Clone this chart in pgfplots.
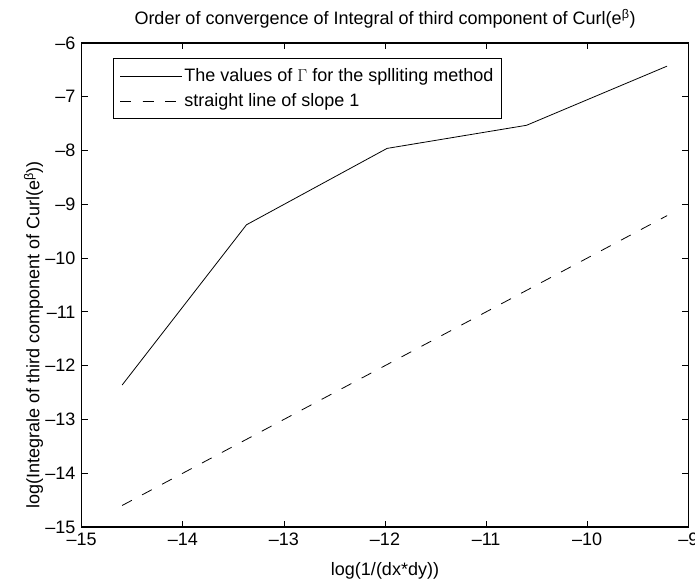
\documentclass[border=0pt]{standalone}
\usepackage{pgfplots}
\pgfplotsset{compat=1.18}
\usepackage{fontspec}
\setmainfont{Liberation Sans}

% Convergence data: log(1/(dx*dy)) against log of the integral
\pgfplotstableread{
x       y
-14.60  -12.36
-13.37  -9.38
-11.98  -7.96
-10.60  -7.53
-9.21   -6.43
}\splitting

\pgfplotstableread{
x       y
-14.60  -14.60
-9.21   -9.21
}\slopeone

\begin{document}
\fontsize{18bp}{22bp}\selectfont
\begin{tikzpicture}
\path[use as bounding box] (-81.7bp,-52bp) rectangle (613.3bp,527bp);
\begin{axis}[
  at={(0,0)}, anchor=south west,
  scale only axis,
  width=606.6bp, height=484bp,
  xmin=-15, xmax=-9, ymin=-15, ymax=-6,
  xtick={-15,-14,-13,-12,-11,-10,-9},
  xticklabels={–15,–14,–13,–12,–11,–10,–9},
  ytick={-15,-14,-13,-12,-11,-10,-9,-8,-7,-6},
  yticklabels={–15,–14,–13,–12,–11,–10,–9,–8,–7,–6},
  tick align=inside,
  major tick length=6bp,
  axis line style={line width=1.1bp},
  tick style={line width=0.8bp, black},
  title={Order of convergence of Integral of third component of Curl(e\textsuperscript{β})},
  title style={at={(0.5,1)}, anchor=base, yshift=12.6bp},
  xlabel={log(1/(dx*dy))},
  ylabel={log(Integrale of third component of Curl(e\textsuperscript{β}))},
  xlabel style={at={(0.5,0)}, anchor=base, yshift=-48bp},
  every axis y label/.style={at={(ticklabel cs:0.5)}, rotate=90, anchor=base, xshift=-50bp},
  legend style={at={(0.052,0.969)}, anchor=north west, draw=black, line width=0.8bp,
    inner xsep=6bp, inner ysep=8bp, row sep=5bp},
  legend cell align=left,
  legend image code/.code={\draw[#1, line width=0.8bp] (0bp,0bp) -- (57bp,0bp);
    \path (0bp,0bp) -- (62bp,0bp);},
]
\addplot[black, line width=0.8bp] table[x=x, y=y] {\splitting};
\addlegendentry{The values of $\Gamma$ for the splliting method}
\addplot[black, line width=0.8bp, dash pattern=on 11bp off 11.6bp] table[x=x, y=y] {\slopeone};
\addlegendentry{straight line of slope 1}
\end{axis}
\end{tikzpicture}
\end{document}
